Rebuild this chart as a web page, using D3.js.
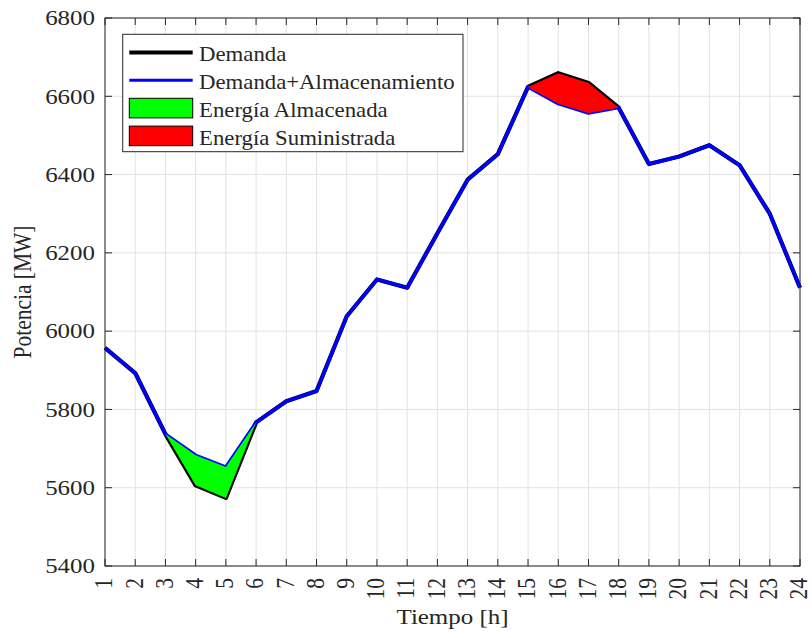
<!DOCTYPE html>
<html>
<head>
<meta charset="utf-8">
<script src="https://cdn.jsdelivr.net/npm/d3@7"></script>
<style>
  html, body { margin: 0; padding: 0; background: #fff; }
  svg { display: block; }
  text { font-family: "Liberation Serif", "Times New Roman", serif; fill: #262626; }
</style>
</head>
<body>
<svg id="chart" width="812" height="638"></svg>
<script>
// ---- Data ----
const hours = [1,2,3,4,5,6,7,8,9,10,11,12,13,14,15,16,17,18,19,20,21,22,23,24];
const demanda = [5957,5893,5737,5606,5574,5767,5821,5847,6038,6132,6111,6250,6387,6452,6624,6659,6634,6571,6427,6446,6475,6424,6300,6111];
const demandaAlm = [5957,5893,5737,5683,5653,5767,5821,5847,6038,6132,6111,6250,6387,6452,6624,6581,6557,6571,6427,6446,6475,6424,6300,6111];
const storedHours = [3,4,5,6];
const suppliedHours = [15,16,17,18];
const yTicks = [5400,5600,5800,6000,6200,6400,6600,6800];
const legendLabels = ["Demanda","Demanda+Almacenamiento","Energía Almacenada","Energía Suministrada"];
const colors = { demanda: "#000000", alm: "#0000ff", stored: "#00ff00", supplied: "#ff0000" };

// ---- Layout ----
const L = 105, R = 800, T = 18, B = 566;
const svg = d3.select("#chart");
const x = d3.scaleLinear().domain([1,24]).range([L,R]);
const y = d3.scaleLinear().domain([5400,6800]).range([B,T]);
const axisColor = "#262626";
const SX = 1.16; // horizontal text stretch

// grid
const grid = svg.append("g");
grid.selectAll("line.vg").data(hours).join("line")
  .attr("x1", d => x(d)).attr("x2", d => x(d)).attr("y1", T).attr("y2", B)
  .attr("stroke", "#e3e3e3").attr("stroke-width", 1);
grid.selectAll("line.hg").data(yTicks).join("line")
  .attr("x1", L).attr("x2", R).attr("y1", d => y(d)).attr("y2", d => y(d))
  .attr("stroke", "#e3e3e3").attr("stroke-width", 1);

// lines
const line = (arr) => d3.line().x((d,i) => x(hours[i])).y(d => y(d))(arr);
svg.append("path").attr("d", line(demanda)).attr("fill","none")
  .attr("stroke", colors.demanda).attr("stroke-width", 4.2).attr("stroke-linejoin","round");
svg.append("path").attr("d", line(demandaAlm)).attr("fill","none")
  .attr("stroke", colors.alm).attr("stroke-width", 3.4).attr("stroke-linejoin","round");

// fills between curves
function band(hs) {
  const idx = hs.map(h => hours.indexOf(h));
  return d3.area().x(i => x(hours[i])).y0(i => y(demanda[i])).y1(i => y(demandaAlm[i]))(idx);
}
svg.append("path").attr("d", band(storedHours)).attr("fill", colors.stored);
svg.append("path").attr("d", band(suppliedHours)).attr("fill", colors.supplied);

// axes box
const ax = svg.append("g");
ax.append("rect").attr("x", L).attr("y", T).attr("width", R-L).attr("height", B-T)
  .attr("fill","none").attr("stroke", axisColor).attr("stroke-width", 1);
const tl = 7;
ax.selectAll("line.xt").data(hours).join("line")
  .attr("x1", d => x(d)).attr("x2", d => x(d)).attr("y1", B).attr("y2", B - tl)
  .attr("stroke", axisColor);
ax.selectAll("line.xt2").data(hours).join("line")
  .attr("x1", d => x(d)).attr("x2", d => x(d)).attr("y1", T).attr("y2", T + tl)
  .attr("stroke", axisColor);
ax.selectAll("line.yt").data(yTicks).join("line")
  .attr("x1", L).attr("x2", L + tl).attr("y1", d => y(d)).attr("y2", d => y(d))
  .attr("stroke", axisColor);
ax.selectAll("line.yt2").data(yTicks).join("line")
  .attr("x1", R).attr("x2", R - tl).attr("y1", d => y(d)).attr("y2", d => y(d))
  .attr("stroke", axisColor);

// tick labels
const fs = 21.5;
ax.selectAll("text.yl").data(yTicks).join("text")
  .attr("transform", d => `translate(${L-10},${y(d)}) scale(${SX},1)`)
  .attr("text-anchor","end").attr("dy","0.34em")
  .attr("font-size", fs).text(d => d);
ax.selectAll("text.xl").data(hours).join("text")
  .attr("transform", d => `translate(${x(d)+7.3},${B+12}) scale(${SX},1) rotate(-90)`)
  .attr("text-anchor","end")
  .attr("font-size", fs).text(d => d);

// axis labels
svg.append("text").attr("transform", `translate(${(L+R)/2},624) scale(${SX},1)`)
  .attr("text-anchor","middle").attr("font-size", fs).text("Tiempo [h]");
svg.append("text").attr("transform", `translate(31,${(T+B)/2}) scale(${SX},1) rotate(-90)`)
  .attr("text-anchor","middle").attr("font-size", fs).text("Potencia [MW]");

// legend
const lg = svg.append("g");
const lx = 122.7, ly = 34.3, lw = 463 - 122.7, lh = 151.7 - 34.3;
lg.append("rect").attr("x", lx).attr("y", ly).attr("width", lw).attr("height", lh)
  .attr("fill","#fff").attr("stroke", axisColor).attr("stroke-width", 1);
const rowY = i => 52.5 + i * 27.8;
const sx0 = 129.3, sx1 = 192.7;
lg.append("line").attr("x1", sx0).attr("x2", sx1).attr("y1", rowY(0)).attr("y2", rowY(0))
  .attr("stroke", colors.demanda).attr("stroke-width", 4);
lg.append("line").attr("x1", sx0).attr("x2", sx1).attr("y1", rowY(1)).attr("y2", rowY(1))
  .attr("stroke", colors.alm).attr("stroke-width", 3);
[colors.stored, colors.supplied].forEach((c, k) => {
  lg.append("rect").attr("x", sx0).attr("y", rowY(2+k) - 9.8).attr("width", sx1 - sx0).attr("height", 19.6)
    .attr("fill", c).attr("stroke", "#000").attr("stroke-width", 1);
});
lg.selectAll("text.lt").data(legendLabels).join("text")
  .attr("transform", (d,i) => `translate(199,${rowY(i) + 8.6}) scale(1.06,1)`)
  .attr("font-size", fs).text(d => d);
</script>
</body>
</html>
